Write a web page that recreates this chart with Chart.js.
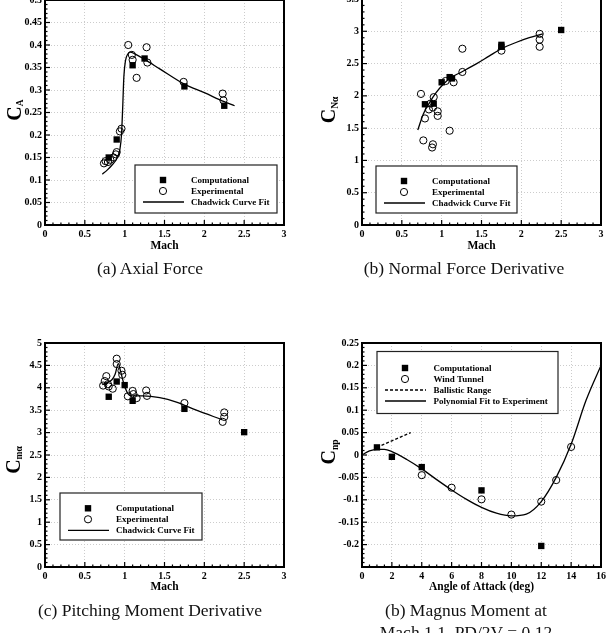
<!DOCTYPE html>
<html><head><meta charset="utf-8">
<script src="https://cdn.jsdelivr.net/npm/chart.js@4.4.1/dist/chart.umd.min.js"></script>
<style>
html,body{margin:0;padding:0;background:#fff;width:615px;height:633px;overflow:hidden;position:relative}
.panel{position:absolute}
.cap{position:absolute;font-family:"Liberation Serif",serif;font-size:17.5px;color:#111;text-align:center;width:340px;line-height:22px;white-space:nowrap}
</style></head><body>
<div class="panel" style="left:0;top:-20px;width:300px;height:290px"><canvas id="ca"></canvas></div>
<div class="panel" style="left:317px;top:-20px;width:300px;height:290px"><canvas id="cb"></canvas></div>
<div class="panel" style="left:0;top:322px;width:300px;height:290px"><canvas id="cc"></canvas></div>
<div class="panel" style="left:317px;top:322px;width:300px;height:290px"><canvas id="cd"></canvas></div>
<div class="cap" style="left:-20px;top:257px">(a) Axial Force</div>
<div class="cap" style="left:294px;top:257px">(b) Normal Force Derivative</div>
<div class="cap" style="left:-20px;top:599px">(c) Pitching Moment Derivative</div>
<div class="cap" style="left:296px;top:599px">(b) Magnus Moment at<br>Mach 1.1, PD/2V = 0.12</div>
<script>
// ---------- tick labels ----------
const machTicks = [0, 0.5, 1, 1.5, 2, 2.5, 3];
const aYTicks = [0, 0.05, 0.1, 0.15, 0.2, 0.25, 0.3, 0.35, 0.4, 0.45, 0.5];
const bYTicks = [0, 0.5, 1, 1.5, 2, 2.5, 3, 3.5];
const cYTicks = [0, 0.5, 1, 1.5, 2, 2.5, 3, 3.5, 4, 4.5, 5];
const dXTicks = [0, 2, 4, 6, 8, 10, 12, 14, 16];
const dYTicks = [-0.2, -0.15, -0.1, -0.05, 0, 0.05, 0.1, 0.15, 0.2, 0.25];

// ---------- (a) Axial force ----------
const aCompMach = [0.8, 0.9, 1.1, 1.25, 1.75, 2.25];
const aCompCA   = [0.15, 0.19, 0.355, 0.37, 0.308, 0.265];
const aExpMach  = [0.74, 0.76, 0.79, 0.82, 0.86, 0.89, 0.9, 0.94, 0.96, 1.045, 1.09, 1.1, 1.15, 1.275, 1.285, 1.74, 2.23, 2.24];
const aExpCA    = [0.137, 0.142, 0.14, 0.145, 0.15, 0.157, 0.162, 0.208, 0.214, 0.4, 0.378, 0.367, 0.327, 0.395, 0.361, 0.318, 0.292, 0.277];
const aFitMach  = [0.72, 0.78, 0.85, 0.9, 0.94, 0.96, 0.975, 0.99, 1.01, 1.04, 1.07, 1.12, 1.25, 1.44, 1.75, 2.0, 2.25, 2.38];
const aFitCA    = [0.113, 0.122, 0.135, 0.147, 0.168, 0.2, 0.26, 0.33, 0.365, 0.38, 0.384, 0.381, 0.368, 0.347, 0.313, 0.294, 0.274, 0.265];

// ---------- (b) Normal force derivative ----------
const bCompMach = [0.79, 0.9, 1.0, 1.1, 1.13, 1.75, 1.75, 2.5];
const bCompCN   = [1.87, 1.88, 2.21, 2.29, 2.27, 2.76, 2.79, 3.02];
const bExpMach  = [0.74, 0.77, 0.79, 0.84, 0.86, 0.9, 0.89, 0.89, 0.88, 0.95, 0.95, 1.05, 1.1, 1.15, 1.26, 1.26, 1.75, 2.23, 2.23, 2.23];
const bExpCN    = [2.03, 1.31, 1.65, 1.79, 1.88, 1.98, 1.82, 1.25, 1.2, 1.76, 1.69, 2.23, 1.46, 2.21, 2.73, 2.37, 2.7, 2.96, 2.87, 2.76];
const bFitMach  = [0.7, 0.77, 0.85, 0.93, 1.02, 1.1, 1.25, 1.44, 1.6, 1.75, 1.94, 2.1, 2.27];
const bFitCN    = [1.47, 1.72, 1.9, 2.05, 2.18, 2.27, 2.37, 2.5, 2.62, 2.73, 2.83, 2.9, 2.96];

// ---------- (c) Pitching moment derivative ----------
const cCompMach = [0.8, 0.9, 1.0, 1.1, 1.75, 2.5];
const cCompCM   = [3.8, 4.14, 4.06, 3.71, 3.53, 3.01];
const cExpMach  = [0.73, 0.75, 0.77, 0.79, 0.8, 0.85, 0.9, 0.9, 0.96, 0.97, 1.04, 1.1, 1.11, 1.15, 1.27, 1.28, 1.75, 2.23, 2.25, 2.25];
const cExpCM    = [4.05, 4.15, 4.26, 4.08, 4.03, 3.98, 4.65, 4.53, 4.38, 4.29, 3.81, 3.93, 3.86, 3.77, 3.94, 3.82, 3.66, 3.24, 3.35, 3.45];
const cFitMach  = [0.72, 0.77, 0.84, 0.88, 0.92, 0.95, 0.99, 1.04, 1.09, 1.23, 1.44, 1.65, 1.9, 2.22];
const cFitCM    = [4.07, 4.11, 4.18, 4.3, 4.54, 4.36, 4.09, 3.87, 3.82, 3.82, 3.78, 3.68, 3.5, 3.29];

// ---------- (d) Magnus moment ----------
const dCompAoA  = [1, 2, 4, 8, 12];
const dCompCnp  = [0.017, -0.004, -0.027, -0.079, -0.203];
const dWindAoA  = [4, 6, 8, 10, 12, 13, 14];
const dWindCnp  = [-0.045, -0.073, -0.099, -0.133, -0.104, -0.056, 0.018];
const dBalAoA   = [1, 3.26];
const dBalCnp   = [0.017, 0.05];
const dFitAoA   = [0, 0.5, 1, 1.5, 2, 3, 4, 5, 6, 7, 8, 9, 10, 11, 12, 13, 14, 15, 16];
const dFitCnp   = [0, 0.009, 0.0125, 0.0125, 0.0075, -0.01, -0.031, -0.055, -0.078, -0.099, -0.117, -0.13, -0.136, -0.132, -0.104, -0.05, 0.024, 0.122, 0.2];

const zip = (xs, ys) => xs.map((x, i) => ({x, y: ys[i]}));

Chart.defaults.font.family = '"Liberation Serif","Times New Roman",serif';
Chart.defaults.color = '#000';

const SERIF = '"Liberation Serif","Times New Roman",serif';

const tecplot = {
  id: 'tecplot',
  afterDraw(chart, args, o) {
    const ctx = chart.ctx, a = chart.chartArea;
    const xs = chart.scales.x, ys = chart.scales.y;
    ctx.save();
    // legend
    const L = o.legend;
    if (L) {
      const bx = a.left + L.x, by = a.top + L.y;
      ctx.fillStyle = '#fff'; ctx.fillRect(bx, by, L.w, L.h);
      ctx.strokeStyle = '#222'; ctx.lineWidth = 1.2; ctx.strokeRect(bx, by, L.w, L.h);
      ctx.font = 'bold 9px ' + SERIF; ctx.textBaseline = 'middle'; ctx.textAlign = 'left';
      chart.data.datasets.forEach((ds, i) => {
        const yy = by + L.row0 + i * L.dy;
        if (ds.showLine) {
          ctx.beginPath(); ctx.setLineDash(ds.borderDash || []);
          ctx.lineWidth = ds.borderWidth; ctx.strokeStyle = '#000';
          ctx.moveTo(bx + 8, yy); ctx.lineTo(bx + 49, yy); ctx.stroke(); ctx.setLineDash([]);
        } else if (ds.pointStyle === 'rect') {
          ctx.fillStyle = '#000'; ctx.fillRect(bx + 28 - 3.2, yy - 3.2, 6.4, 6.4);
        } else {
          ctx.beginPath(); ctx.arc(bx + 28, yy, 3.6, 0, 2 * Math.PI);
          ctx.fillStyle = '#fff'; ctx.fill(); ctx.lineWidth = 1; ctx.strokeStyle = '#000'; ctx.stroke();
        }
        ctx.fillStyle = '#000'; ctx.fillText(ds.label, bx + L.tx, yy + 0.5);
      });
    }
    // frame
    ctx.strokeStyle = '#000'; ctx.lineWidth = 2;
    ctx.strokeRect(a.left, a.top, a.right - a.left, a.bottom - a.top);
    // inward ticks
    ctx.lineWidth = 1.2;
    const tk = (scale, major, minor, horiz) => {
      const n = Math.round((scale.max - scale.min) / minor);
      for (let k = 0; k <= n; k++) {
        const v = scale.min + k * minor;
        const r = v / major;
        const isMaj = Math.abs(r - Math.round(r)) < 1e-6;
        const len = isMaj ? 5 : 2.5;
        const p = scale.getPixelForValue(v);
        ctx.beginPath();
        if (horiz) { ctx.moveTo(p, a.bottom); ctx.lineTo(p, a.bottom - len); }
        else { ctx.moveTo(a.left, p); ctx.lineTo(a.left + len, p); }
        ctx.stroke();
      }
    };
    tk(xs, o.xMajor, o.xMinor, true);
    tk(ys, o.yMajor, o.yMinor, false);
    // y title with subscript
    const T = o.ytitle;
    ctx.fillStyle = '#000';
    ctx.font = 'bold 20px ' + SERIF;
    const wMain = ctx.measureText(T.main).width;
    ctx.font = 'bold 9.5px ' + SERIF;
    const wSub = ctx.measureText(T.sub).width;
    const tot = wMain + wSub;
    ctx.translate(a.left + T.dx, a.top + T.dy);
    ctx.rotate(-Math.PI / 2);
    ctx.textAlign = 'left'; ctx.textBaseline = 'alphabetic';
    ctx.font = 'bold 20px ' + SERIF;
    ctx.fillText(T.main, -tot / 2, 0);
    ctx.font = 'bold 9.5px ' + SERIF;
    ctx.fillText(T.sub, -tot / 2 + wMain, T.subShift);
    ctx.restore();
  }
};

const fmt = v => String(+Number(v).toFixed(3));

function build(id, cfg) {
  const axis = (ticksArr, min, max, title, fitFn, pb) => ({
    type: 'linear', min, max,
    afterBuildTicks: s => { s.ticks = ticksArr.map(v => ({value: v})); },
    afterFit: fitFn,
    ticks: {font: {size: 10, weight: 'bold'}, padding: 3, maxRotation: 0, autoSkip: false, callback: fmt, color: '#000'},
    grid: {color: '#cccccc', lineWidth: 1, drawTicks: false},
    border: {display: false, dash: [1, 2]},
    title: title ? {display: true, text: title, color: '#000', font: {size: 11.5, weight: 'bold'}, padding: {top: 0, bottom: pb}} : {display: false}
  });
  new Chart(document.getElementById(id), {
    type: 'scatter',
    data: {datasets: cfg.datasets},
    options: {
      animation: false, responsive: true, maintainAspectRatio: false,
      layout: {padding: {left: 0, right: 16, top: cfg.padTop, bottom: 0}},
      plugins: {legend: {display: false}, tooltip: {enabled: false}, tecplot: cfg.tec},
      scales: {
        x: axis(cfg.xTicks, cfg.xMin, cfg.xMax, cfg.xTitle, s => { s.height = 45; }, cfg.titlePb),
        y: axis(cfg.yTicks, cfg.yMin, cfg.yMax, null, s => { s.width = 45; }, 0)
      }
    },
    plugins: [tecplot]
  });
}

const comp = (d) => ({label: 'Computational', data: d, pointStyle: 'rect', pointRadius: 4.5, pointBackgroundColor: '#000', pointBorderColor: '#000', pointBorderWidth: 0, showLine: false});
const exp = (label, d) => ({label, data: d, pointStyle: 'circle', pointRadius: 3.6, pointBackgroundColor: 'rgba(255,255,255,0)', pointBorderColor: '#000', pointBorderWidth: 1, showLine: false});
const fit = (label, d, dash) => ({label, data: d, showLine: true, pointRadius: 0, borderColor: '#000', borderWidth: 1.3, borderDash: dash || [], cubicInterpolationMode: dash ? 'default' : 'monotone', tension: 0, fill: false});

build('ca', {
  padTop: 20, titlePb: 17.4, xTitle: 'Mach',
  xTicks: machTicks, xMin: 0, xMax: 3, yTicks: aYTicks, yMin: 0, yMax: 0.5,
  datasets: [comp(zip(aCompMach, aCompCA)), exp('Experimental', zip(aExpMach, aExpCA)), fit('Chadwick Curve Fit', zip(aFitMach, aFitCA))],
  tec: {xMajor: 0.5, xMinor: 0.1, yMajor: 0.05, yMinor: 0.01,
        legend: {x: 90, y: 165, w: 142, h: 48, row0: 15, dy: 11, tx: 56},
        ytitle: {main: 'C', sub: 'A', dx: -24, dy: 110, subShift: 2}}
});
build('cb', {
  padTop: 19, titlePb: 17.4, xTitle: 'Mach',
  xTicks: machTicks, xMin: 0, xMax: 3, yTicks: bYTicks, yMin: 0, yMax: 3.5,
  datasets: [comp(zip(bCompMach, bCompCN)), exp('Experimental', zip(bExpMach, bExpCN)), fit('Chadwick Curve Fit', zip(bFitMach, bFitCN))],
  tec: {xMajor: 0.5, xMinor: 0.1, yMajor: 0.5, yMinor: 0.1,
        legend: {x: 14, y: 167, w: 141, h: 47, row0: 15, dy: 11, tx: 56},
        ytitle: {main: 'C', sub: 'Nα', dx: -27, dy: 111, subShift: 3}}
});
build('cc', {
  padTop: 21, titlePb: 18.4, xTitle: 'Mach',
  xTicks: machTicks, xMin: 0, xMax: 3, yTicks: cYTicks, yMin: 0, yMax: 5,
  datasets: [comp(zip(cCompMach, cCompCM)), exp('Experimental', zip(cExpMach, cExpCM)), fit('Chadwick Curve Fit', zip(cFitMach, cFitCM))],
  tec: {xMajor: 0.5, xMinor: 0.1, yMajor: 0.5, yMinor: 0.1,
        legend: {x: 15, y: 150, w: 142, h: 47, row0: 15.3, dy: 11, tx: 56},
        ytitle: {main: 'C', sub: 'mα', dx: -25, dy: 117, subShift: 2}}
});
build('cd', {
  padTop: 21, titlePb: 18.4, xTitle: 'Angle of Attack (deg)',
  xTicks: dXTicks, xMin: 0, xMax: 16, yTicks: dYTicks, yMin: -0.25, yMax: 0.25,
  datasets: [comp(zip(dCompAoA, dCompCnp)), exp('Wind Tunnel', zip(dWindAoA, dWindCnp)), fit('Ballistic Range', zip(dBalAoA, dBalCnp), [3, 2]), fit('Polynomial Fit to Experiment', zip(dFitAoA, dFitCnp))],
  tec: {xMajor: 2, xMinor: 0.5, yMajor: 0.05, yMinor: 0.01,
        legend: {x: 15, y: 8.5, w: 181, h: 62, row0: 16.5, dy: 11, tx: 56.5},
        ytitle: {main: 'C', sub: 'np', dx: -27, dy: 109, subShift: 3}}
});
</script>
</body></html>
